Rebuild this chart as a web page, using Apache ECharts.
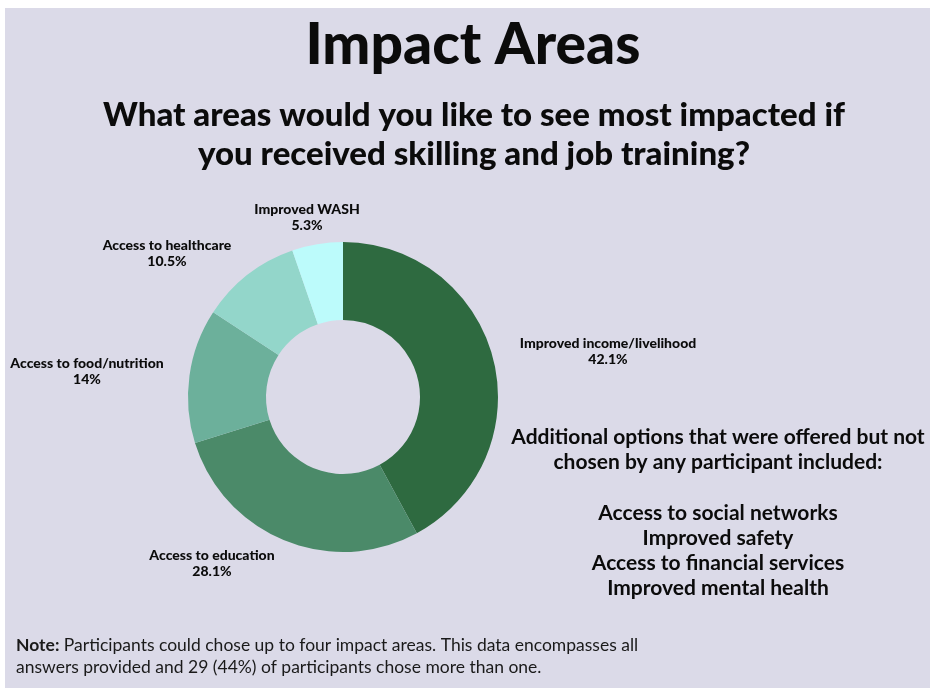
<!DOCTYPE html>
<html>
<head>
<meta charset="utf-8">
<script src="https://cdn.jsdelivr.net/npm/echarts@6/dist/echarts.min.js"></script>
<style>
  html, body { margin: 0; padding: 0; background: #ffffff; }
  #chart { width: 930px; height: 688px; }
</style>
</head>
<body>
<div id="chart"></div>
<script>
// Impact areas chosen by participants (share of all answers, %)
const categories = [
  'Improved income/livelihood',
  'Access to education',
  'Access to food/nutrition',
  'Access to healthcare',
  'Improved WASH'
];
const shares = [42.1, 28.1, 14, 10.5, 5.3];
const sliceColors = ['#2e6a40', '#4b8a69', '#6cb09b', '#93d6ca', '#bcfbfb'];

// Options offered but never selected
const unchosenOptions = [
  'Access to social networks',
  'Improved safety',
  'Access to financial services',
  'Improved mental health'
];

// Where each slice label sits (label block centre)
const labelSpots = [[608, 351], [212, 563], [87, 371], [167, 253], [307, 217]];

const bg = '#dbdae8';
const ink = '#0b0b0b';
const headFont = 'Lato';

const chart = echarts.init(document.getElementById('chart'), null, { renderer: 'canvas' });

chart.setOption({
  backgroundColor: '#ffffff',
  animation: false,
  graphic: [
    { type: 'rect', shape: { x: 5, y: 8, width: 925, height: 680 }, style: { fill: bg }, z: -10 },
    {
      type: 'text',
      style: {
        x: 473, y: 46, text: 'Impact Areas', align: 'center', verticalAlign: 'middle',
        font: '900 57px ' + headFont, fill: ink
      }
    },
    {
      type: 'text',
      style: {
        x: 474, y: 135, text: 'What areas would you like to see most impacted if\nyou received skilling and job training?',
        align: 'center', verticalAlign: 'middle', lineHeight: 39,
        font: '900 33px ' + headFont, fill: ink
      }
    },
    {
      type: 'text',
      style: {
        x: 718, y: 450, text: 'Additional options that were offered but not\nchosen by any participant included:',
        align: 'center', verticalAlign: 'middle', lineHeight: 25,
        font: 'bold 21px ' + headFont, fill: ink
      }
    },
    {
      type: 'text',
      style: {
        x: 718, y: 550.5, text: unchosenOptions.join('\n'),
        align: 'center', verticalAlign: 'middle', lineHeight: 25,
        font: 'bold 21px ' + headFont, fill: ink
      }
    },
    {
      type: 'text',
      style: {
        x: 16, y: 656, verticalAlign: 'middle',
        text: '{b|Note:} Participants could chose up to four impact areas. This data encompasses all\nanswers provided and 29 (44%) of participants chose more than one.',
        lineHeight: 22,
        font: '17.5px Lato', fill: '#1a1a1a',
        rich: { b: { fontWeight: 'bold', fontFamily: 'Lato', fontSize: 17.5, fill: '#1a1a1a' } }
      }
    }
  ],
  series: [{
    type: 'pie',
    center: [343, 397],
    radius: [77, 155],
    startAngle: 90,
    clockwise: true,
    silent: true,
    itemStyle: { borderWidth: 0 },
    labelLine: { show: false },
    label: {
      show: true,
      formatter: '{b}\n{c}%',
      fontFamily: headFont,
      fontWeight: 900,
      fontSize: 14,
      lineHeight: 16,
      color: ink,
      align: 'center',
      overflow: 'none'
    },
    labelLayout: function (p) {
      const s = labelSpots[p.dataIndex];
      return { x: s[0], y: s[1], align: 'center', verticalAlign: 'middle', hideOverlap: false };
    },
    data: categories.map((name, i) => ({
      name: name, value: shares[i], itemStyle: { color: sliceColors[i] }
    }))
  }]
});
</script>
</body>
</html>
